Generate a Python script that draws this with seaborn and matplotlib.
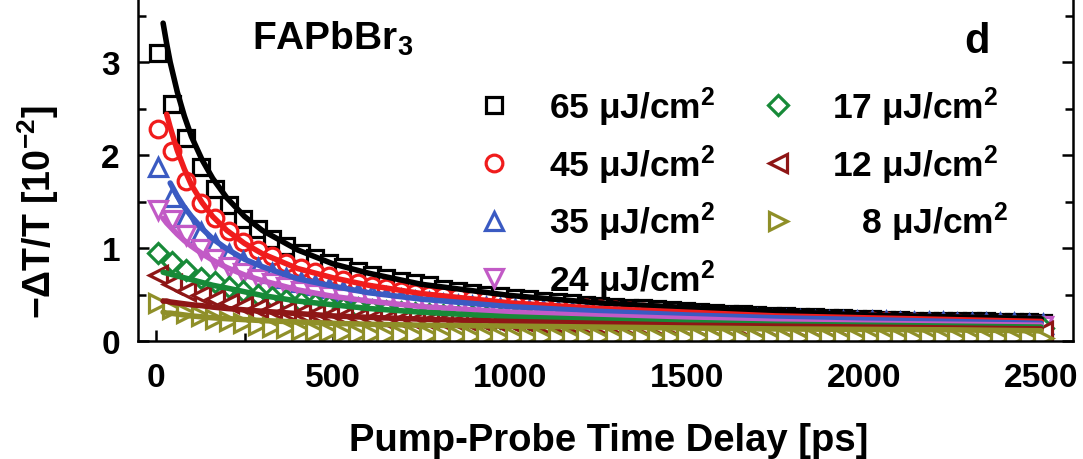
import numpy as np
import matplotlib
matplotlib.use("Agg")
import matplotlib.pyplot as plt
import seaborn as sns
from matplotlib.ticker import MultipleLocator

# ---------------- data ----------------
fluence_labels = ["65 μJ/cm$^2$", "45 μJ/cm$^2$", "35 μJ/cm$^2$", "24 μJ/cm$^2$",
                  "17 μJ/cm$^2$", "12 μJ/cm$^2$", "\u2007 8 μJ/cm$^2$"]

time_ps = np.linspace(5, 2505, 63)   # pump-probe delays of the measured points

m65 = [3.10, 2.55, 2.18, 1.87, 1.64, 1.46, 1.31, 1.20, 1.10, 1.02,
       0.95, 0.89, 0.84, 0.80, 0.75, 0.71, 0.68, 0.65, 0.62, 0.60,
       0.56, 0.54, 0.52, 0.50, 0.48, 0.46, 0.45, 0.43, 0.42, 0.41,
       0.39, 0.38, 0.37, 0.36, 0.35, 0.34, 0.33, 0.32, 0.31, 0.30,
       0.29, 0.29, 0.28, 0.27, 0.27, 0.26, 0.26, 0.25, 0.25, 0.24,
       0.24, 0.23, 0.23, 0.22, 0.22, 0.22, 0.21, 0.21, 0.21, 0.20,
       0.20, 0.20, 0.19]
m45 = [2.28, 2.04, 1.72, 1.49, 1.32, 1.18, 1.07, 0.98, 0.91, 0.84,
       0.79, 0.74, 0.70, 0.66, 0.62, 0.59, 0.57, 0.54, 0.52, 0.50,
       0.48, 0.47, 0.45, 0.44, 0.42, 0.40, 0.39, 0.38, 0.37, 0.36,
       0.35, 0.34, 0.33, 0.32, 0.31, 0.30, 0.29, 0.28, 0.27, 0.26,
       0.26, 0.25, 0.25, 0.24, 0.24, 0.23, 0.23, 0.22, 0.22, 0.21,
       0.21, 0.21, 0.20, 0.20, 0.19, 0.19, 0.19, 0.18, 0.18, 0.18,
       0.17, 0.17, 0.17]
m35 = [1.87, 1.55, 1.33, 1.17, 1.04, 0.94, 0.86, 0.79, 0.73, 0.68,
       0.64, 0.60, 0.57, 0.54, 0.52, 0.49, 0.47, 0.45, 0.43, 0.42,
       0.40, 0.39, 0.38, 0.37, 0.35, 0.34, 0.33, 0.33, 0.32, 0.31,
       0.30, 0.29, 0.29, 0.28, 0.28, 0.27, 0.27, 0.26, 0.26, 0.25,
       0.25, 0.24, 0.24, 0.23, 0.23, 0.23, 0.22, 0.22, 0.22, 0.21,
       0.21, 0.21, 0.20, 0.20, 0.20, 0.20, 0.19, 0.19, 0.19, 0.19,
       0.19, 0.18, 0.18]
m24 = [1.41, 1.30, 1.14, 0.99, 0.88, 0.80, 0.73, 0.67, 0.62, 0.58,
       0.54, 0.51, 0.48, 0.46, 0.44, 0.42, 0.40, 0.38, 0.37, 0.35,
       0.34, 0.33, 0.32, 0.31, 0.30, 0.29, 0.29, 0.28, 0.27, 0.26,
       0.26, 0.25, 0.25, 0.24, 0.24, 0.23, 0.23, 0.22, 0.22, 0.22,
       0.21, 0.21, 0.20, 0.20, 0.20, 0.20, 0.19, 0.19, 0.19, 0.18,
       0.18, 0.18, 0.18, 0.17, 0.17, 0.17, 0.17, 0.17, 0.16, 0.16,
       0.16, 0.16, 0.16]
m17 = [0.95, 0.85, 0.76, 0.68, 0.63, 0.58, 0.54, 0.50, 0.47, 0.44,
       0.42, 0.40, 0.38, 0.36, 0.35, 0.33, 0.32, 0.31, 0.30, 0.29,
       0.28, 0.27, 0.27, 0.26, 0.25, 0.25, 0.24, 0.23, 0.23, 0.22,
       0.22, 0.21, 0.21, 0.21, 0.20, 0.20, 0.20, 0.19, 0.19, 0.19,
       0.18, 0.18, 0.18, 0.17, 0.17, 0.17, 0.17, 0.17, 0.16, 0.16,
       0.16, 0.16, 0.16, 0.15, 0.15, 0.15, 0.15, 0.15, 0.15, 0.14,
       0.14, 0.14, 0.14]
m12 = [0.71, 0.61, 0.54, 0.49, 0.45, 0.41, 0.38, 0.36, 0.34, 0.32,
       0.30, 0.29, 0.27, 0.26, 0.25, 0.24, 0.23, 0.23, 0.22, 0.21,
       0.21, 0.20, 0.19, 0.19, 0.19, 0.18, 0.18, 0.17, 0.17, 0.17,
       0.16, 0.16, 0.16, 0.15, 0.15, 0.15, 0.15, 0.14, 0.14, 0.14,
       0.14, 0.14, 0.13, 0.13, 0.13, 0.13, 0.13, 0.13, 0.13, 0.12,
       0.12, 0.12, 0.12, 0.12, 0.12, 0.12, 0.12, 0.11, 0.11, 0.11,
       0.11, 0.11, 0.11]
m8 = [0.41, 0.34, 0.30, 0.27, 0.24, 0.21, 0.19, 0.17, 0.15, 0.14,
      0.12, 0.11, 0.10, 0.09, 0.08, 0.08, 0.07, 0.07, 0.06, 0.06,
      0.05, 0.05, 0.05, 0.05, 0.04, 0.04, 0.04, 0.04, 0.04, 0.04,
      0.04, 0.04, 0.04, 0.04, 0.04, 0.04, 0.04, 0.04, 0.04, 0.04,
      0.04, 0.03, 0.03, 0.03, 0.03, 0.03, 0.03, 0.03, 0.03, 0.03,
      0.03, 0.03, 0.03, 0.03, 0.03, 0.03, 0.03, 0.03, 0.03, 0.03,
      0.03, 0.03, 0.03]

# fitted curves
fit_t = [20, 30, 40, 60, 80, 100, 130, 160, 200, 250, 300, 400, 500, 600,
         750, 1000, 1250, 1500, 1750, 2000, 2250, 2500]
f65 = [3.42, 3.20, 3.00, 2.68, 2.42, 2.20, 1.95, 1.75, 1.54, 1.34, 1.19, 0.98, 0.83, 0.73,
       0.61, 0.49, 0.41, 0.36, 0.32, 0.28, 0.26, 0.24]
f45 = [None, 2.44, 2.30, 2.05, 1.85, 1.68, 1.49, 1.34, 1.19, 1.05, 0.94, 0.78, 0.68, 0.60,
       0.51, 0.41, 0.35, 0.31, 0.27, 0.25, 0.23, 0.21]
f35 = [None, None, 1.70, 1.56, 1.44, 1.34, 1.21, 1.10, 0.99, 0.88, 0.80, 0.67, 0.59, 0.52,
       0.45, 0.37, 0.32, 0.28, 0.25, 0.23, 0.21, 0.19]
f24 = [1.32, 1.27, 1.23, 1.15, 1.08, 1.02, 0.94, 0.87, 0.79, 0.71, 0.65, 0.55, 0.48, 0.43,
       0.37, 0.31, 0.27, 0.24, 0.21, 0.19, 0.18, 0.17]
f17 = [0.74, 0.73, 0.72, 0.70, 0.68, 0.66, 0.63, 0.60, 0.57, 0.53, 0.49, 0.43, 0.39, 0.35,
       0.31, 0.26, 0.23, 0.20, 0.18, 0.17, 0.16, 0.15]
f12 = [0.43, 0.43, 0.42, 0.41, 0.40, 0.39, 0.38, 0.365, 0.35, 0.335, 0.32, 0.295, 0.27, 0.255,
       0.235, 0.21, 0.19, 0.17, 0.16, 0.15, 0.14, 0.13]
f8 = [0.31, 0.30, 0.30, 0.29, 0.28, 0.27, 0.26, 0.25, 0.24, 0.23, 0.22, 0.205, 0.19, 0.18,
      0.17, 0.16, 0.15, 0.14, 0.13, 0.125, 0.12, 0.11]

series_markers = [m65, m45, m35, m24, m17, m12, m8]
series_fits = [f65, f45, f35, f24, f17, f12, f8]
colors = ["#000000", "#f01c1c", "#3a5ac2", "#c25ac6", "#178a38", "#8e1616", "#8f8f28"]
marker_shapes = ["s", "o", "^", "v", "D", "<", ">"]
marker_sizes = [11.5, 12, 12.5, 12.5, 10.5, 12.5, 12.5]

# ---------------- style ----------------
sns.set_theme(style="ticks")
plt.rcParams['font.family'] = ['Liberation Sans', 'DejaVu Sans']
plt.rcParams['font.weight'] = 'bold'
plt.rcParams['axes.labelweight'] = 'bold'
plt.rcParams['text.color'] = 'black'
plt.rcParams['axes.labelcolor'] = 'black'
plt.rcParams['xtick.color'] = 'black'
plt.rcParams['ytick.color'] = 'black'
plt.rcParams['mathtext.fontset'] = 'custom'
plt.rcParams['mathtext.rm'] = 'Liberation Sans:bold'
plt.rcParams['mathtext.it'] = 'Liberation Sans:bold:italic'
plt.rcParams['mathtext.bf'] = 'Liberation Sans:bold'
plt.rcParams['mathtext.default'] = 'rm'

fig = plt.figure(figsize=(10.83, 4.60), dpi=100)
ax = fig.add_axes([0.1274, 0.2565, 0.8634, 0.7435])

# markers (high fluence first, lower fluences drawn over them)
for vals, c, mk, ms, lab in zip(series_markers, colors, marker_shapes,
                                marker_sizes, fluence_labels):
    sns.lineplot(x=time_ps, y=vals, ax=ax, estimator=None, sort=False,
                 linestyle="none", marker=mk, markersize=ms,
                 markerfacecolor="white", markeredgecolor=c,
                 markeredgewidth=2.3, color=c, label=lab)

# fit lines on top
for fv, c in zip(series_fits, colors):
    xs = [t for t, v in zip(fit_t, fv) if v is not None]
    ys = [v for v in fv if v is not None]
    sns.lineplot(x=xs, y=ys, ax=ax, estimator=None, sort=False,
                 color=c, linewidth=4.0, legend=False)

ax.set_xlim(-51, 2590)
ax.set_ylim(0, 3.68)
ax.xaxis.set_major_locator(MultipleLocator(500))
ax.xaxis.set_minor_locator(MultipleLocator(250))
ax.yaxis.set_major_locator(MultipleLocator(1))
ax.yaxis.set_minor_locator(MultipleLocator(0.5))

ax.spines['top'].set_visible(False)
for s in ['left', 'right', 'bottom']:
    ax.spines[s].set_linewidth(1.8)
    ax.spines[s].set_color('black')
ax.tick_params(which='both', direction='in', top=False, right=True,
               width=1.8, color='black', labelsize=24, labelcolor='black')
ax.tick_params(which='major', length=8)
ax.tick_params(which='minor', length=6)
ax.tick_params(axis='x', which='both', pad=15)
ax.tick_params(axis='y', which='both', pad=13)

ax.set_xlabel("Pump-Probe Time Delay [ps]", fontsize=27.5, fontweight='bold')
ax.set_ylabel("\u2212ΔT/T [10$^{-2}$]", fontsize=27, fontweight='bold')
ax.xaxis.set_label_coords(0.503, -0.237)
ax.yaxis.set_label_coords(-0.082, 0.38)

ax.text(271, 3.14, "FAPbBr$_3$", fontsize=28, fontweight='bold',
        ha='left', va='baseline')
ax.text(2319, 3.11, "d", fontsize=30, fontweight='bold', ha='center', va='baseline')

handles, labels = ax.get_legend_handles_labels()
order = [labels.index(l) for l in fluence_labels]
ax.legend([handles[i] for i in order], [labels[i] for i in order],
          ncol=2, frameon=False, fontsize=25.5, loc='upper left',
          bbox_to_anchor=(0.362, 0.75), handlelength=1.0, handletextpad=1.05,
          columnspacing=1.25, labelspacing=0.40, borderpad=0, borderaxespad=0)

fig.savefig("out.png", dpi=100)
